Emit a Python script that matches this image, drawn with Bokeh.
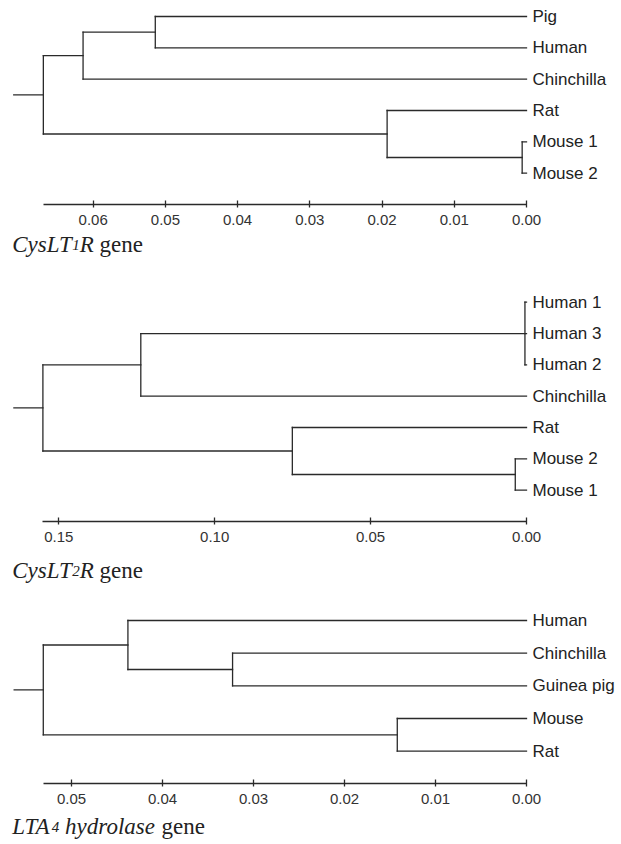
from bokeh.plotting import figure
from bokeh.layouts import column
from bokeh.models import Range1d, FixedTicker, PrintfTickFormatter
from bokeh.core.properties import value
from bokeh.embed import file_html
from bokeh.resources import INLINE

# ---------------- data ----------------
# Panel 1: CysLT1R gene
leaves1 = ["Pig", "Human", "Chinchilla", "Rat", "Mouse 1", "Mouse 2"]
children1 = [[0, 1], [6, 2], [4, 5], [3, 8], [7, 9]]
heights1 = [0.0514, 0.0614, 0.0006, 0.0193, 0.0669]
stem1 = 0.0710
ticks1 = [0.00, 0.01, 0.02, 0.03, 0.04, 0.05, 0.06]
title1 = ["CysLT", "1", "R", "gene"]

# Panel 2: CysLT2R gene
leaves2 = ["Human 1", "Human 3", "Human 2", "Chinchilla", "Rat", "Mouse 2", "Mouse 1"]
children2 = [[0, 1, 2], [7, 3], [5, 6], [4, 9], [8, 10]]
heights2 = [0.0005, 0.1237, 0.0036, 0.0751, 0.1551]
stem2 = 0.1644
ticks2 = [0.00, 0.05, 0.10, 0.15]
title2 = ["CysLT", "2", "R", "gene"]

# Panel 3: LTA4 hydrolase gene
leaves3 = ["Human", "Chinchilla", "Guinea pig", "Mouse", "Rat"]
children3 = [[1, 2], [0, 5], [3, 4], [6, 7]]
heights3 = [0.0323, 0.0438, 0.0142, 0.0531]
stem3 = 0.0563
ticks3 = [0.00, 0.01, 0.02, 0.03, 0.04, 0.05]
title3 = ["LTA", "4", "hydrolase", "gene"]

# ---------------- styling ----------------
W = 621
X0PX = 526.0
LINE = "#2a2a2a"
TXT = "#222222"

# Times metrics (1/1000 em) for title width estimation
TIMES_IT = {"C": 667, "y": 444, "s": 389, "L": 556, "T": 556, "R": 611, "A": 611,
            "1": 500, "2": 500, "4": 500, "h": 500, "d": 500, "r": 389, "o": 500,
            "l": 278, "a": 500, "e": 444, " ": 250}
TIMES_RM = {"g": 500, "e": 444, "n": 500, " ": 250}


def text_w(s, size, italic):
    tab = TIMES_IT if italic else TIMES_RM
    return sum(tab.get(ch, 500) for ch in s) * size / 1000.0


def build(leaves, children, heights, stem, ticks, title_parts, title_styles,
          H, lead, axis_off, pxper, title_base):
    n = len(leaves)
    s = (axis_off - lead) / n
    y_top = -lead / s
    y_bot = (H - lead) / s
    x_start = X0PX / pxper
    x_end = -(W - X0PX) / pxper

    p = figure(width=W, height=H, output_backend="svg", toolbar_location=None,
               x_range=Range1d(x_start, x_end), y_range=Range1d(y_bot, y_top),
               y_axis_location=None, min_border_left=0, min_border_right=0,
               min_border_top=0, min_border_bottom=0)
    p.outline_line_color = None
    p.xgrid.visible = False
    p.ygrid.visible = False
    p.background_fill_color = "white"
    p.border_fill_color = "white"

    # node positions
    ys = [float(i) for i in range(n)]
    xs = [0.0] * n
    for ch, h in zip(children, heights):
        cy = [ys[c] for c in ch]
        ys.append((min(cy) + max(cy)) / 2.0)
        xs.append(h)
    x0, x1, y0, y1 = [], [], [], []
    for ch, h in zip(children, heights):
        cy = [ys[c] for c in ch]
        x0.append(h); x1.append(h); y0.append(min(cy)); y1.append(max(cy))
        for c in ch:
            x0.append(h); x1.append(xs[c]); y0.append(ys[c]); y1.append(ys[c])
    ry = ys[-1]
    x0.append(heights[-1]); x1.append(stem); y0.append(ry); y1.append(ry)
    p.segment(x0=x0, y0=y0, x1=x1, y1=y1, line_color=LINE, line_width=1.3,
              line_cap="square")

    p.text(x=[0.0] * n, y=list(range(n)), text=leaves, x_offset=6,
           text_baseline="middle", text_align="left",
           text_font=value("Liberation Sans"), text_font_size="17px",
           text_color=TXT)

    ax = p.xaxis[0]
    ax.fixed_location = n
    ax.ticker = FixedTicker(ticks=ticks)
    ax.formatter = PrintfTickFormatter(format="%.2f")
    ax.bounds = (0, heights[-1])
    ax.minor_tick_line_color = None
    ax.major_tick_in = 4
    ax.major_tick_out = 3
    ax.major_label_standoff = 7
    ax.axis_line_color = LINE
    ax.axis_line_width = 1.3
    ax.major_tick_line_color = LINE
    ax.major_tick_line_width = 1.3
    ax.major_label_text_font = "Liberation Sans"
    ax.major_label_text_font_size = "15px"
    ax.major_label_text_color = "#333333"

    # title pieces (text glyphs inside the frame)
    ty = (title_base - lead) / s
    px = 11.7
    for part, (style, size, gap) in zip(title_parts, title_styles):
        px += gap
        xd = x_start - px / pxper
        p.text(x=[xd], y=[ty], text=[part], text_font=value("Liberation Serif"),
               text_font_size=f"{size}px", text_font_style=style,
               text_color=TXT, text_baseline="alphabetic", text_align="left")
        px += text_w(part, size, style == "italic")
    return p


sty_cys = [("italic", 23, 0), ("italic", 15, 0), ("italic", 23, 0), ("normal", 23, 5.75)]
sty_lta = [("italic", 23, 0), ("italic", 15, 0), ("italic", 23, 5.75), ("normal", 23, 5.75)]

p1 = build(leaves1, children1, heights1, stem1, ticks1, title1, sty_cys,
           H=268, lead=16, axis_off=204, pxper=7222, title_base=244.3)
p2 = build(leaves2, children2, heights2, stem2, ticks2, title2, sty_cys,
           H=325, lead=33.7, axis_off=253, pxper=3118, title_base=302.3)
p3 = build(leaves3, children3, heights3, stem3, ticks3, title3, sty_lta,
           H=251, lead=27, axis_off=190.3, pxper=9100, title_base=233.0)

layout = column(p1, p2, p3, spacing=0)
open("out.html", "w").write(file_html(layout, INLINE))
